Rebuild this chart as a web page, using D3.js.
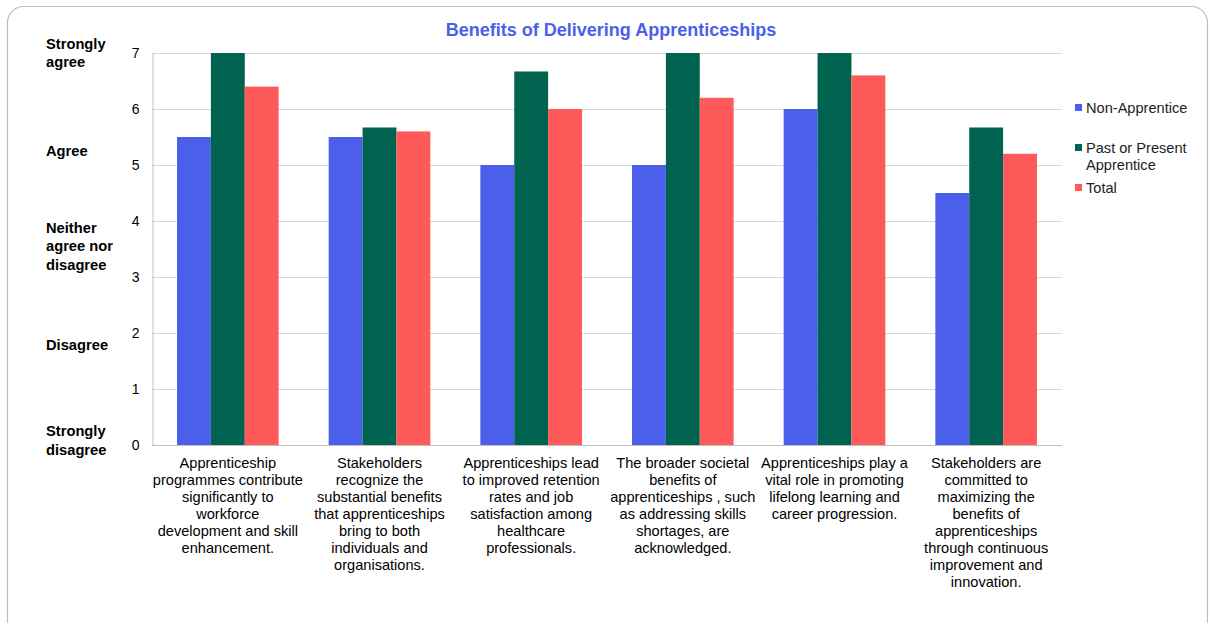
<!DOCTYPE html>
<html>
<head>
<meta charset="utf-8">
<script src="https://cdn.jsdelivr.net/npm/d3@7/dist/d3.min.js"></script>
<style>
  html, body { margin: 0; padding: 0; background: #fff; }
  svg { display: block; font-family: "Liberation Sans", Arial, sans-serif; }
</style>
</head>
<body>
<svg id="chart" width="1209" height="623"></svg>
<script>
// Statements rated (wrapped into lines as displayed)
const categories = [
  ["Apprenticeship", "programmes contribute", "significantly to", "workforce", "development and skill", "enhancement."],
  ["Stakeholders", "recognize the", "substantial benefits", "that apprenticeships", "bring to both", "individuals and", "organisations."],
  ["Apprenticeships lead", "to improved retention", "rates and job", "satisfaction among", "healthcare", "professionals."],
  ["The broader societal", "benefits of", "apprenticeships , such", "as addressing skills", "shortages, are", "acknowledged."],
  ["Apprenticeships play a", "vital role in promoting", "lifelong learning and", "career progression."],
  ["Stakeholders are", "committed to", "maximizing the", "benefits of", "apprenticeships", "through continuous", "improvement and", "innovation."]
];

const seriesNames = ["Non-Apprentice", "Past or Present Apprentice", "Total"];
const nonApprentice = [5.5, 5.5, 5.0, 5.0, 6.0, 4.5];
const pastPresentApprentice = [7.0, 5.67, 6.67, 7.0, 7.0, 5.67];
const total = [6.4, 5.6, 6.0, 6.2, 6.6, 5.2];
const seriesColors = ["#4B5FEB", "#00634F", "#FF5A5A"];

const yTicks = [0, 1, 2, 3, 4, 5, 6, 7];
const scaleLabels = [
  { v: 7, lines: ["Strongly", "agree"] },
  { v: 5.25, lines: ["Agree"] },
  { v: 3.55, lines: ["Neither", "agree nor", "disagree"] },
  { v: 1.79, lines: ["Disagree"] },
  { v: 0.08, lines: ["Strongly", "disagree"] }
];

const svg = d3.select("#chart");

// Card outline
svg.append("rect")
  .attr("x", 7.5).attr("y", 6.5)
  .attr("width", 1200).attr("height", 630)
  .attr("rx", 16).attr("ry", 16)
  .attr("fill", "#fff")
  .attr("stroke", "#bdbdbd").attr("stroke-width", 1.2);

const plot = { left: 152, right: 1062, top: 53, bottom: 445 };

const x0 = d3.scaleBand()
  .domain(d3.range(categories.length))
  .range([plot.left, plot.right])
  .paddingInner(0.33).paddingOuter(0.165);

const x1 = d3.scaleBand()
  .domain(d3.range(seriesNames.length))
  .range([0, x0.bandwidth()]);

const y = d3.scaleLinear().domain([0, 7]).range([plot.bottom, plot.top]);

// Title
svg.append("text")
  .attr("x", 611).attr("y", 36)
  .attr("text-anchor", "middle")
  .attr("font-size", 18).attr("font-weight", "bold")
  .attr("fill", "#4B5FEB")
  .text("Benefits of Delivering Apprenticeships");

// Gridlines
svg.append("g")
  .selectAll("line")
  .data(yTicks.filter(t => t > 0))
  .join("line")
  .attr("x1", plot.left).attr("x2", plot.right)
  .attr("y1", d => Math.round(y(d)) + 0.5).attr("y2", d => Math.round(y(d)) + 0.5)
  .attr("stroke", "#d9d9d9").attr("stroke-width", 1);

// Y axis
const yAxis = svg.append("g")
  .attr("transform", `translate(${plot.left + 0.5},0)`)
  .call(d3.axisLeft(y).tickValues(yTicks).tickSize(0).tickPadding(13).tickFormat(d3.format("d")));
yAxis.select(".domain").attr("stroke", "#bfbfbf");
yAxis.selectAll("text").attr("font-size", 14).attr("fill", "#000")
  .attr("font-family", "\"Liberation Sans\", Arial, sans-serif");

// Bars
const seriesData = [nonApprentice, pastPresentApprentice, total];
const groups = svg.append("g")
  .selectAll("g")
  .data(categories.map((c, i) => i))
  .join("g")
  .attr("transform", i => `translate(${x0(i)},0)`);

groups.selectAll("rect")
  .data(i => seriesData.map((s, k) => ({ k, v: s[i] })))
  .join("rect")
  .attr("x", d => x1(d.k))
  .attr("width", x1.bandwidth())
  .attr("y", d => y(d.v))
  .attr("height", d => y(0) - y(d.v))
  .attr("fill", d => seriesColors[d.k]);

// X axis baseline
svg.append("line")
  .attr("x1", plot.left).attr("x2", plot.right)
  .attr("y1", plot.bottom + 0.5).attr("y2", plot.bottom + 0.5)
  .attr("stroke", "#bfbfbf");

// Category labels
const catLabels = svg.append("g")
  .selectAll("text")
  .data(categories)
  .join("text")
  .attr("x", (d, i) => x0(i) + x0.bandwidth() / 2)
  .attr("y", 468)
  .attr("text-anchor", "middle")
  .attr("font-size", 14.6).attr("fill", "#000");
catLabels.selectAll("tspan")
  .data(d => d)
  .join("tspan")
  .attr("x", function () { return d3.select(this.parentNode).attr("x"); })
  .attr("dy", (d, j) => j === 0 ? 0 : 17)
  .text(d => d);

// Agreement scale labels
const scale = svg.append("g")
  .selectAll("text")
  .data(scaleLabels)
  .join("text")
  .attr("x", 46)
  .attr("y", d => y(d.v))
  .attr("font-size", 14.7).attr("font-weight", "bold").attr("fill", "#000");
scale.selectAll("tspan")
  .data(d => d.lines)
  .join("tspan")
  .attr("x", 46)
  .attr("dy", (d, j) => j === 0 ? 0 : 18.5)
  .text(d => d);
scale.attr("transform", d => `translate(0,${-(d.lines.length - 1) * 18.5 / 2 + 5})`);

// Legend
const legendRows = [
  { k: 0, lines: ["Non-Apprentice"], y: 108 },
  { k: 1, lines: ["Past or Present", "Apprentice"], y: 148 },
  { k: 2, lines: ["Total"], y: 188 }
];
const legend = svg.append("g")
  .selectAll("g")
  .data(legendRows)
  .join("g");
legend.append("rect")
  .attr("x", 1075).attr("y", d => d.y - 4)
  .attr("width", 7).attr("height", 7)
  .attr("fill", d => seriesColors[d.k]);
legend.append("text")
  .attr("x", 1086).attr("y", d => d.y + 5)
  .attr("font-size", 14.6).attr("fill", "#222")
  .selectAll("tspan")
  .data(d => d.lines)
  .join("tspan")
  .attr("x", 1086)
  .attr("dy", (d, j) => j === 0 ? 0 : 17)
  .text(d => d);
</script>
</body>
</html>
